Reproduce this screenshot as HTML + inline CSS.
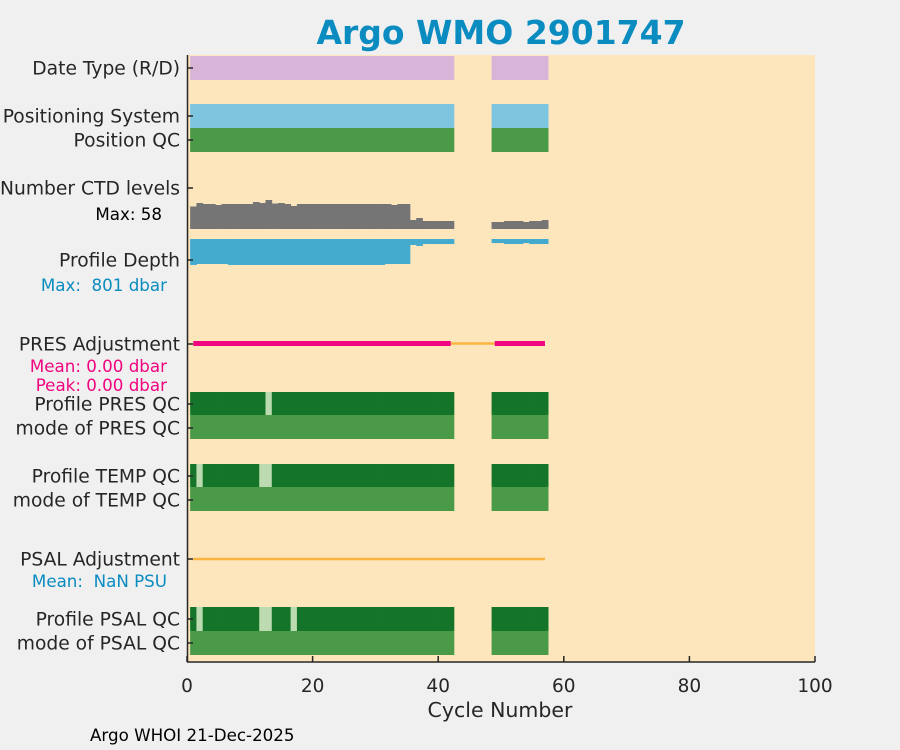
<!DOCTYPE html>
<html><head><meta charset="utf-8"><style>
body{margin:0;background:#f0f0f0;}
svg{display:block;font-family:"DejaVu Sans","Liberation Sans",sans-serif;}
text{white-space:pre;}
</style></head><body>
<svg id="chart" width="900" height="750" viewBox="0 0 900 750">
<rect width="900" height="750" fill="#f0f0f0"/>
<rect x="188" y="55" width="627" height="607" fill="#fde6bb"/>
<g id="marks"></g>
<line x1="187.5" y1="55" x2="187.5" y2="662" stroke="#262626" stroke-width="1.5"/>
<line x1="187" y1="662" x2="815" y2="662" stroke="#262626" stroke-width="1.5"/>
<g id="axes" fill="#262626"></g>
<text x="501" y="44" text-anchor="middle" font-size="33" font-weight="bold" fill="#0a8cc0">Argo WMO 2901747</text>
<text x="500" y="717" text-anchor="middle" font-size="20.5" fill="#262626">Cycle Number</text>
<text x="90" y="741" font-size="16.7" fill="#000">Argo WHOI 21-Dec-2025</text>
<text x="162" y="220" text-anchor="end" font-size="16.7" fill="#000">Max: 58</text>
<text x="167" y="291" text-anchor="end" font-size="16.7" fill="#0a8cc0" xml:space="preserve">Max:  801 dbar</text>
<text x="167" y="372" text-anchor="end" font-size="16.7" fill="#f0047f">Mean: 0.00 dbar</text>
<text x="167" y="391" text-anchor="end" font-size="16.7" fill="#f0047f">Peak: 0.00 dbar</text>
<text x="167" y="587" text-anchor="end" font-size="16.7" fill="#0a8cc0" xml:space="preserve">Mean:  NaN PSU</text>
</svg>
<script>
const cycles = [1,2,3,4,5,6,7,8,9,10,11,12,13,14,15,16,17,18,19,20,21,22,23,24,25,26,27,28,29,30,31,32,33,34,35,36,37,38,39,40,41,42,49,50,51,52,53,54,55,56,57];
const ctdLevels = [45,52,50,50,48,50,50,50,50,50,54,52,58,51,52,50,46,50,50,50,50,50,50,50,50,50,50,50,50,50,50,50,48,50,50,18,22,16,16,16,16,16,14,14,16,16,16,14,16,16,18];
const profDepth = [800,770,770,770,770,770,800,800,800,800,800,800,800,800,800,800,800,800,800,800,800,800,800,800,800,800,800,800,800,800,800,770,770,770,770,185,215,155,155,155,155,155,125,125,155,155,155,125,155,155,155];
const presQCBad = [13];
const tempQCBad = [2,12,13];
const psalQCBad = [2,12,13,17];
const presAdjMagentaRanges = [[1,42],[49,57]];
const presAdjOrangeRanges = [[42,49]];
const psalAdjRange = [1,57];
const xTicks = [0,20,40,60,80,100];
const rowLabels = ["Date Type (R/D)","Positioning System","Position QC","Number CTD levels","Profile Depth","PRES Adjustment","Profile PRES QC","mode of PRES QC","Profile TEMP QC","mode of TEMP QC","PSAL Adjustment","Profile PSAL QC","mode of PSAL QC"];
const rowY = [68,116,140,188,260,344,404,428,476,500,559,619,643];

const NS="http://www.w3.org/2000/svg";
const x = c => 187 + c*6.28;
const marks=document.getElementById('marks'), axes=document.getElementById('axes');
function mk(tag,attrs,parent){const e=document.createElementNS(NS,tag);for(const k in attrs)e.setAttribute(k,attrs[k]);parent.appendChild(e);return e;}
function rowBars(y0,h,color,name,bad,badColor){
  cycles.forEach(c=>{
    const isBad = bad && bad.includes(c);
    const r=mk('rect',{x:x(c-0.5),y:y0,width:6.68,height:h,fill:isBad?badColor:color},marks);
    
    
  });
}
rowBars(56,24,'#d8b5d8','date-type-bar');
rowBars(104,24,'#7ec5e0','positioning-system-bar');
rowBars(128,24,'#4a9a48','position-qc-bar');
rowBars(392,23,'#14752a','profile-pres-qc-bar',presQCBad,'#bddbb0');
rowBars(415,24,'#4a9a48','mode-pres-qc-bar');
rowBars(464,23,'#14752a','profile-temp-qc-bar',tempQCBad,'#bddbb0');
rowBars(487,24,'#4a9a48','mode-temp-qc-bar');
rowBars(607,24,'#14752a','profile-psal-qc-bar',psalQCBad,'#bddbb0');
rowBars(631,24,'#4a9a48','mode-psal-qc-bar');
cycles.forEach((c,i)=>{
  const h=ctdLevels[i]*0.5;
  const r=mk('rect',{x:x(c-0.5),y:229-h,width:6.68,height:h,fill:'#757575'},marks);
  
  
});
cycles.forEach((c,i)=>{
  const h=profDepth[i]/801*26;
  const r=mk('rect',{x:x(c-0.5),y:239,width:6.68,height:h,fill:'#44aace'},marks);
  
  
});
presAdjOrangeRanges.forEach(rg=>{
  const l=mk('line',{x1:x(rg[0]),x2:x(rg[1]),y1:343.5,y2:343.5,stroke:'#fcb441','stroke-width':2.5},marks);
  
  
});
presAdjMagentaRanges.forEach(rg=>{
  const l=mk('line',{x1:x(rg[0]),x2:x(rg[1]),y1:343.5,y2:343.5,stroke:'#f0047f','stroke-width':5},marks);
  
  
});
{
  const l=mk('line',{x1:x(psalAdjRange[0]),x2:x(psalAdjRange[1]),y1:559,y2:559,stroke:'#fcb441','stroke-width':2.5},marks);
  
  
}
xTicks.forEach(t=>{
  const l=mk('line',{x1:x(t),x2:x(t),y1:656,y2:662,stroke:'#262626','stroke-width':1.5},axes);
  
  
  const tx=mk('text',{x:x(t),y:692,'text-anchor':'middle','font-size':18.5},axes);
  tx.textContent=t;
  
  
});
rowLabels.forEach((s,i)=>{
  const l=mk('line',{x1:187,x2:193,y1:rowY[i],y2:rowY[i],stroke:'#262626','stroke-width':1.5},axes);
  
  
  const tx=mk('text',{x:180,y:rowY[i]+6.5,'text-anchor':'end','font-size':18.7},axes);
  tx.textContent=s;
  
  
});
</script>
</body></html>
